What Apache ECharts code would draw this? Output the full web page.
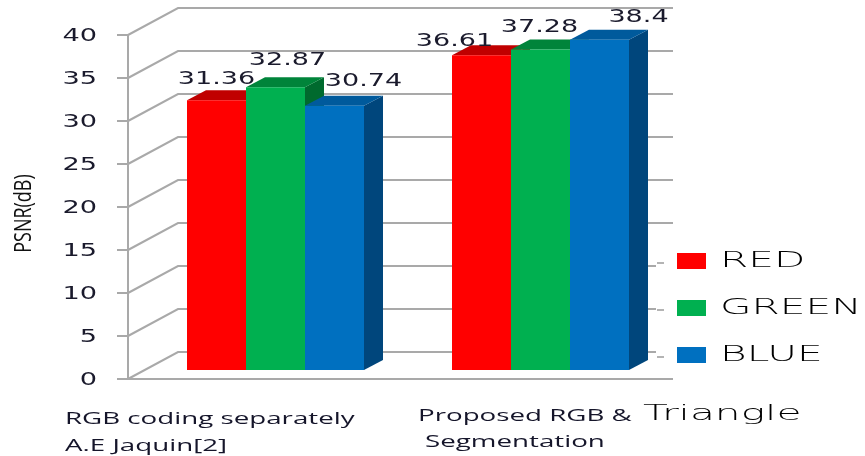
<!DOCTYPE html>
<html>
<head>
<meta charset="utf-8">
<script src="https://cdn.jsdelivr.net/npm/echarts@6/dist/echarts.min.js"></script>
<style>
  html, body { margin: 0; padding: 0; background: #ffffff; }
  #chart { width: 865px; height: 456px; }
</style>
</head>
<body>
<div id="chart"></div>
<script>
// ---- data ----
const categories = ['RGB coding separately A.E Jaquin[2]', 'Proposed RGB & Triangle Segmentation'];
const seriesNames = ['RED', 'GREEN', 'BLUE'];
const redValues = [31.36, 36.61];
const greenValues = [32.87, 37.28];
const blueValues = [30.74, 38.4];
const yTicks = [0, 5, 10, 15, 20, 25, 30, 35, 40];
const axisName = 'PSNR(dB)';

// category captions, line by line (second part of a line uses the display face)
const categoryLines = [
  [['RGB coding separately'], ['A.E Jaquin[2]']],
  [['Proposed RGB &', 'Triangle'], ['Segmentation']]
];

// ---- layout & style ----
const GRID = { left: 128, top: 35, right: 207, bottom: 77 };
const WALL = [50, -27];        // front plane -> back wall
const BAR_FRONT = [15, -9];    // bar front face behind the front plane
const BAR_DEPTH = [19, -10];   // bar depth (top / side faces)
const BAR_WIDTH_RATIO = 59 / 265;
const WALL_RIGHT = 673;
const GRID_COLOR = '#a9a9a9';
const TEXT_COLOR = '#1a1a2c';
const NUM_FONT = 'DejaVu Sans';
const CAPTION_FONT = '"Open Sans", "DejaVu Sans", sans-serif';

const barColors = [
  { front: '#ff0000', top: '#c00000', side: '#9a0000' },
  { front: '#00b050', top: '#00843a', side: '#006a2e' },
  { front: '#0070c0', top: '#005a9c', side: '#00467c' }
];
// value label placement relative to the bar's front-top centre, per series per category
const labelOffsets = [
  [[0, -21], [-27, -14]],
  [[12, -27], [-1, -22]],
  [[29, -24], [39, -22]]
];
// captions: left x and centre y of each line
const captionLayout = [
  [{ x: 65, y: 419.5 }, { x: 65, y: 446 }],
  [{ x: 418, y: 416, x2: 643, y2: 414.7 }, { x: 425, y: 442.5 }]
];
const legendLayout = { swatchX: 677, textX: 720, ys: [261, 308, 355], w: 29, h: 16 };

const seriesValues = [redValues, greenValues, blueValues];

function barRenderer(s) {
  const c = barColors[s];
  return function (params, api) {
    const cat = api.value(0);
    const v = api.value(1);
    const base = api.coord([cat, 0]);
    const top = api.coord([cat, v]);
    const w = api.size([1, 0])[0] * BAR_WIDTH_RATIO;
    const cx = base[0] + (s - 1) * w + BAR_FRONT[0];
    const x0 = cx - w / 2, x1 = cx + w / 2;
    const yb = base[1] + BAR_FRONT[1];
    const yt = top[1] + BAR_FRONT[1];
    const dx = BAR_DEPTH[0], dy = BAR_DEPTH[1];
    const off = labelOffsets[s][cat];
    return {
      type: 'group',
      children: [
        { type: 'polygon', shape: { points: [[x1, yt], [x1 + dx, yt + dy], [x1 + dx, yb + dy], [x1, yb]] }, style: { fill: c.side } },
        { type: 'polygon', shape: { points: [[x0, yt], [x1, yt], [x1 + dx, yt + dy], [x0 + dx, yt + dy]] }, style: { fill: c.top } },
        { type: 'rect', shape: { x: x0, y: yt, width: w, height: yb - yt }, style: { fill: c.front } },
        {
          type: 'text', x: cx + off[0], y: yt + off[1], scaleX: 1.5, z2: 100,
          style: { text: String(v), fill: TEXT_COLOR, fontFamily: NUM_FONT, fontSize: 18, align: 'center', verticalAlign: 'middle' }
        }
      ]
    };
  };
}

function wallRenderer(params, api) {
  const v = api.value(1);
  const p = api.coord([0, v]);
  const x0 = params.coordSys.x;
  const y0 = p[1];
  const children = [{
    type: 'polyline',
    shape: { points: [[x0, y0], [x0 + WALL[0], y0 + WALL[1]], [WALL_RIGHT, y0 + WALL[1]]] },
    style: { stroke: GRID_COLOR, lineWidth: 2, fill: null }
  }];
  if (v === 0) {
    children.push({
      type: 'line', shape: { x1: x0 - 11, y1: y0, x2: WALL_RIGHT, y2: y0 },
      style: { stroke: GRID_COLOR, lineWidth: 2 }
    });
  }
  return { type: 'group', children: children };
}

function tickLabelRenderer(params, api) {
  const v = api.value(1);
  const p = api.coord([0, v]);
  return {
    type: 'text', x: params.coordSys.x - 31, y: p[1] + 2, scaleX: 1.6,
    style: { text: String(v), fill: TEXT_COLOR, fontFamily: NUM_FONT, fontSize: 17, align: 'right', verticalAlign: 'middle' }
  };
}

const series = [
  {
    type: 'custom', name: 'wall', clip: false, silent: true, z: 1,
    data: yTicks.map(v => [0, v]), encode: { x: 0, y: 1 }, renderItem: wallRenderer
  },
  {
    type: 'custom', name: 'ticks', clip: false, silent: true,
    data: yTicks.map(v => [0, v]), encode: { x: 0, y: 1 }, renderItem: tickLabelRenderer
  }
];
seriesNames.forEach((name, s) => {
  series.push({
    type: 'custom', name: name, clip: false,
    data: seriesValues[s].map((v, i) => [i, v]), encode: { x: 0, y: 1 },
    renderItem: barRenderer(s)
  });
});

// captions, axis title and legend
const graphics = [];
categoryLines.forEach((lines, ci) => {
  lines.forEach((parts, li) => {
    const pos = captionLayout[ci][li];
    graphics.push({
      type: 'text', x: pos.x, y: pos.y, scaleX: 1.63,
      style: { text: parts[0], fill: '#15152a', font: '17px ' + CAPTION_FONT, verticalAlign: 'middle', align: 'left' }
    });
    if (parts[1]) {
      graphics.push({
        type: 'text', x: pos.x2, y: pos.y2, scaleX: 1.85,
        style: { text: parts[1], fill: '#000000', font: '200 22px "DejaVu Sans"', verticalAlign: 'middle', align: 'left' }
      });
    }
  });
});
graphics.push({
  type: 'text', x: 24, y: 213.5, rotation: Math.PI / 2, scaleY: 1.35,
  style: { text: axisName, fill: '#111111', font: '18px ' + CAPTION_FONT, align: 'center', verticalAlign: 'middle' }
});
// legend panel
graphics.push({ type: 'rect', z: 10, shape: { x: 656, y: 244, width: 209, height: 133 }, style: { fill: '#ffffff' } });
legendLayout.ys.forEach(y => {
  graphics.push({ type: 'rect', z: 11, shape: { x: 657, y: y + 1, width: 7, height: 2 }, style: { fill: '#b4b4b4' } });
});
seriesNames.forEach((name, s) => {
  const y = legendLayout.ys[s];
  graphics.push({
    type: 'rect', z: 11,
    shape: { x: legendLayout.swatchX, y: y - legendLayout.h / 2, width: legendLayout.w, height: legendLayout.h },
    style: { fill: barColors[s].front }
  });
  graphics.push({
    type: 'text', z: 11, x: legendLayout.textX, y: y, scaleX: 1.85,
    style: { text: name, fill: '#000000', font: '200 22px "DejaVu Sans"', verticalAlign: 'middle', align: 'left' }
  });
});

const chart = echarts.init(document.getElementById('chart'), null, { renderer: 'canvas' });
chart.setOption({
  animation: false,
  backgroundColor: '#ffffff',
  grid: GRID,
  xAxis: { type: 'category', data: categories, show: false },
  yAxis: {
    type: 'value', min: 0, max: 40, interval: 5,
    axisLine: { show: true, lineStyle: { color: GRID_COLOR, width: 2 } },
    axisTick: { show: true, length: 11, lineStyle: { color: GRID_COLOR, width: 2 } },
    axisLabel: { show: false },
    splitLine: { show: false }
  },
  graphic: graphics,
  series: series
});
</script>
</body>
</html>
